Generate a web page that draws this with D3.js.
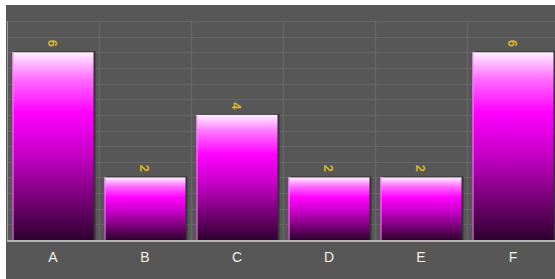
<!DOCTYPE html>
<html>
<head>
<meta charset="utf-8">
<script src="https://cdn.jsdelivr.net/npm/d3@7"></script>
<style>
  body { margin: 0; background: #fff; }
  svg { display: block; }
</style>
</head>
<body>
<div id="graphique"></div>
<script>
// donnees du graphique
const categories = ["A", "B", "C", "D", "E", "F"];
const valeurs = [6, 2, 4, 2, 2, 6];
const graduations = d3.range(0, 7.01, 0.5); // lignes de grille tous les 0.5

const largeur = 555;
const hauteur = 279;

const svg = d3.select("#graphique")
  .append("svg")
  .attr("width", largeur)
  .attr("height", hauteur);

// fond gris
svg.append("rect")
  .attr("x", 6).attr("y", 5)
  .attr("width", largeur - 6).attr("height", hauteur - 5)
  .attr("fill", "#575757");

const x = d3.scaleBand()
  .domain(categories)
  .range([7, 559])
  .paddingInner(0.12)
  .paddingOuter(0.06);

const y = d3.scaleLinear()
  .domain([0, 7])
  .range([240, 21]);

// degrade des barres
const defs = svg.append("defs");
const grad = defs.append("linearGradient")
  .attr("id", "degrade")
  .attr("x1", 0).attr("y1", 0).attr("x2", 0).attr("y2", 1);
grad.append("stop").attr("offset", "0%").attr("stop-color", "#fff0ff");
grad.append("stop").attr("offset", "14%").attr("stop-color", "#ff70ff");
grad.append("stop").attr("offset", "32%").attr("stop-color", "#ff00ff");
grad.append("stop").attr("offset", "55%").attr("stop-color", "#c400c4");
grad.append("stop").attr("offset", "100%").attr("stop-color", "#2e002e");

// grille horizontale
svg.append("g")
  .selectAll("line")
  .data(graduations)
  .join("line")
  .attr("x1", 7).attr("x2", largeur)
  .attr("y1", d => Math.round(y(d)) + 0.5)
  .attr("y2", d => Math.round(y(d)) + 0.5)
  .attr("stroke", "#666666")
  .attr("stroke-width", 1);

// grille verticale (limites des categories)
const pas = x.step();
svg.append("g")
  .selectAll("line")
  .data(categories.slice(1))
  .join("line")
  .attr("x1", (d) => Math.round(x(d) - x.paddingInner() * pas / 2) + 0.5)
  .attr("x2", (d) => Math.round(x(d) - x.paddingInner() * pas / 2) + 0.5)
  .attr("y1", y(7)).attr("y2", y(0))
  .attr("stroke", "#666666")
  .attr("stroke-width", 1.5);

// bord gauche
svg.append("line")
  .attr("x1", 7.5).attr("x2", 7.5)
  .attr("y1", y(7)).attr("y2", y(0))
  .attr("stroke", "#9a9a9a");

// ombre des barres
svg.append("g")
  .selectAll("rect")
  .data(valeurs)
  .join("rect")
  .attr("x", (d, i) => x(categories[i]) + 2)
  .attr("y", d => y(d) - 1)
  .attr("width", x.bandwidth())
  .attr("height", d => y(0) - y(d) + 1)
  .attr("fill", "#2a2a2a")
  .attr("opacity", 0.8);

// barres
svg.append("g")
  .selectAll("rect")
  .data(valeurs)
  .join("rect")
  .attr("x", (d, i) => x(categories[i]))
  .attr("y", d => y(d))
  .attr("width", x.bandwidth())
  .attr("height", d => y(0) - y(d))
  .attr("fill", "url(#degrade)");

// liseret clair a gauche
svg.append("g")
  .selectAll("line")
  .data(valeurs)
  .join("line")
  .attr("x1", (d, i) => x(categories[i]) + 0.5)
  .attr("x2", (d, i) => x(categories[i]) + 0.5)
  .attr("y1", d => y(d))
  .attr("y2", y(0))
  .attr("stroke", "#ff88ff")
  .attr("stroke-width", 1);

// axe du bas
svg.append("line")
  .attr("x1", 7).attr("x2", largeur)
  .attr("y1", 241).attr("y2", 241)
  .attr("stroke", "#b4b4b4")
  .attr("stroke-width", 2);

// etiquettes des valeurs (tournees)
svg.append("g")
  .selectAll("text")
  .data(valeurs)
  .join("text")
  .attr("transform", (d, i) =>
    `translate(${x(categories[i]) + x.bandwidth() / 2}, ${y(d) - 9}) rotate(90)`)
  .attr("text-anchor", "middle")
  .attr("dy", "0.35em")
  .style("font-family", "Liberation Sans, Arial, sans-serif")
  .style("font-size", "13px")
  .style("font-weight", "bold")
  .attr("fill", "#d8b42c")
  .text(d => d);

// etiquettes des categories
svg.append("g")
  .selectAll("text")
  .data(categories)
  .join("text")
  .attr("x", d => x(d) + x.bandwidth() / 2)
  .attr("y", 262)
  .attr("text-anchor", "middle")
  .style("font-family", "Liberation Sans, Arial, sans-serif")
  .style("font-size", "14px")
  .attr("fill", "#eeeeee")
  .text(d => d);
</script>
</body>
</html>
